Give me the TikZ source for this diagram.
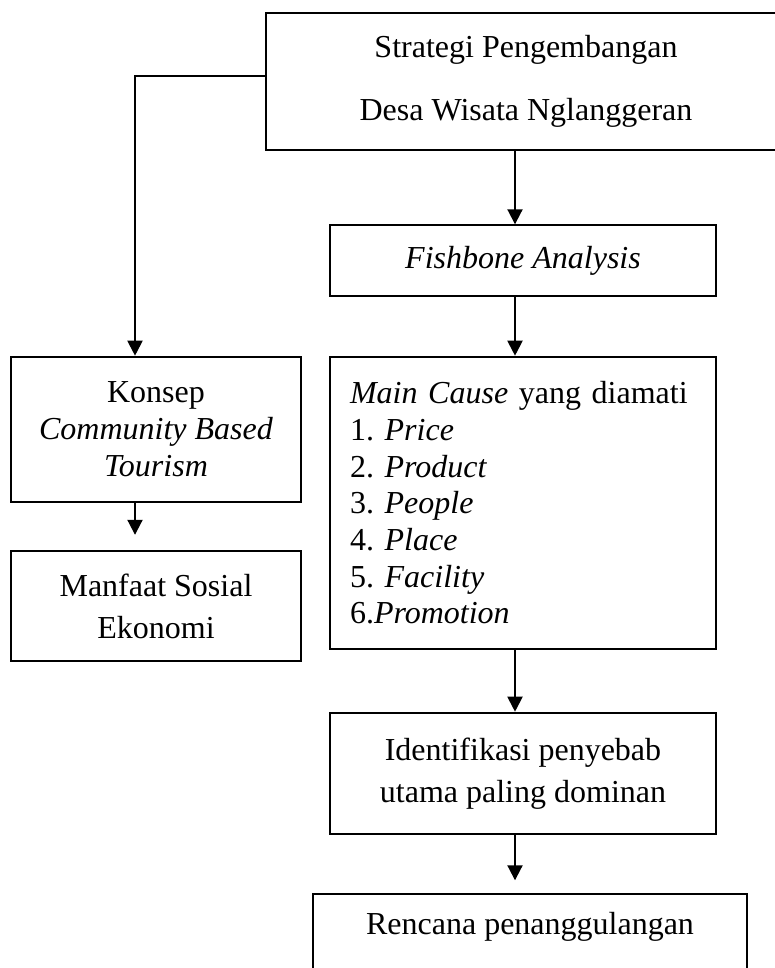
\documentclass[tikz,border=0pt]{standalone}
\usepackage{fontspec}
\setmainfont{Liberation Serif}
\usetikzlibrary{arrows.meta,positioning}
\frenchspacing

\begin{document}
\begin{tikzpicture}[x=0.5pt,y=-0.5pt,>={Triangle[length=7.5pt,width=7.5pt]},
  blk/.style={draw,line width=1pt,rectangle,align=center,inner sep=0pt,font=\fontsize{16}{19}\selectfont},
  arr/.style={->,line width=1pt}]
  \useasboundingbox (0,0) rectangle (775,968);
  \clip (0,0) rectangle (775,968);
  \node[blk,minimum width=260pt,minimum height=68.7pt,font=\fontsize{16}{31.7}\selectfont](st) at (526,81.3){Strategi Pengembangan\\Desa Wisata Nglanggeran};
  \node[blk,minimum width=193pt,minimum height=35.2pt](fb) at (523,260.5){\textit{Fishbone Analysis}};
  \node[blk,minimum width=193pt,minimum height=146.3pt,text width=173pt,align=left,font=\fontsize{16}{18.35}\selectfont](mc) at (523,503){\textit{Main Cause} yang diamati\\1. \textit{Price}\\2. \textit{Product}\\3. \textit{People}\\4. \textit{Place}\\5. \textit{Facility}\\6.\textit{Promotion}};
  \node[blk,minimum width=145.3pt,minimum height=72.5pt,font=\fontsize{16}{18.5}\selectfont](ks) at (156,429.2){Konsep\\\textit{Community Based}\\\textit{Tourism}};
  \node[blk,minimum width=145.3pt,minimum height=55.2pt,font=\fontsize{16}{20.9}\selectfont](mf) at (156,606){Manfaat Sosial\\Ekonomi};
  \node[blk,minimum width=193pt,minimum height=60.8pt,font=\fontsize{16}{21}\selectfont](id) at (523,773.5){Identifikasi penyebab\\utama paling dominan};
  \node[blk,anchor=north,minimum width=217pt,text height=11pt,text depth=40pt,inner ysep=8.9pt](rp) at (530,893.3){Rencana penanggulangan};
  \coordinate (rsp) at (515,0);
  \coordinate (lsp) at (135,0);
  \draw[arr] (st.south -| rsp)--(fb.north -| rsp);
  \draw[arr] (fb.south -| rsp)--(mc.north -| rsp);
  \draw[arr] (mc.south -| rsp)--(id.north -| rsp);
  \draw[arr,shorten >=6.5pt] (id.south -| rsp)--(rp.north -| rsp);
  \draw[arr] ([yshift=2.8pt]st.west) -| (ks.north -| lsp);
  \draw[arr,shorten >=7.5pt] (ks.south -| lsp)--(mf.north -| lsp);
\end{tikzpicture}
\end{document}
